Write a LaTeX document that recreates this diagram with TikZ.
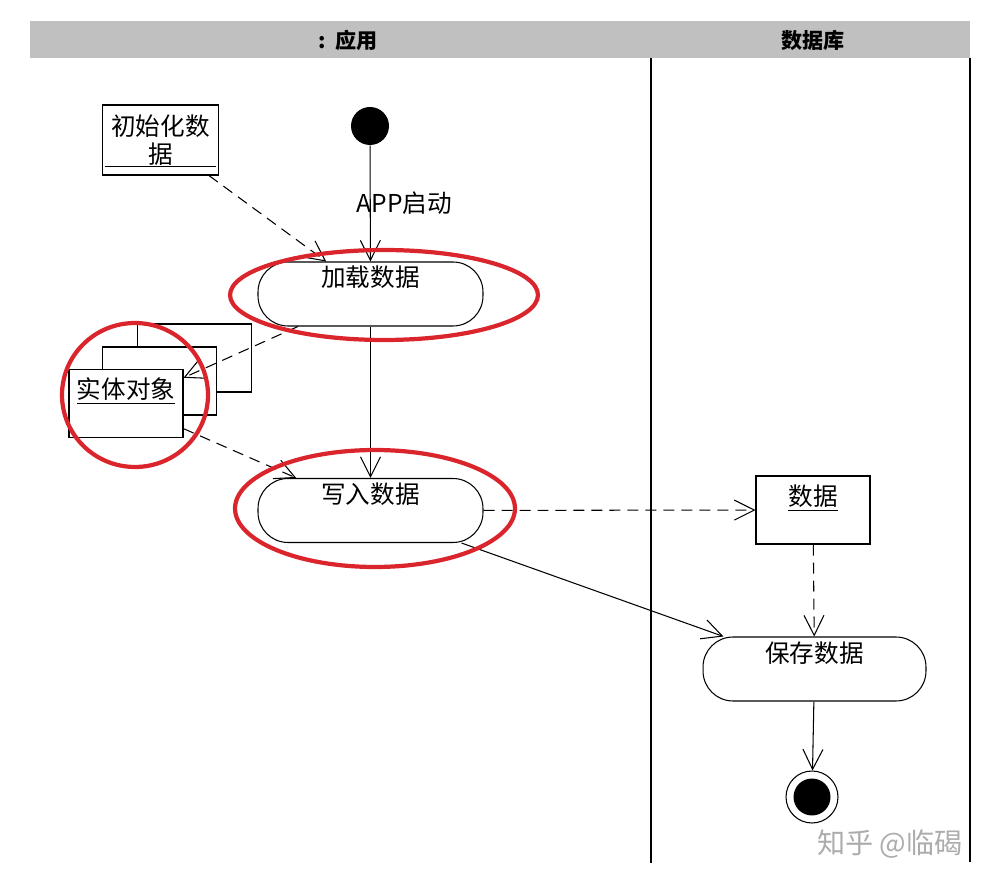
\documentclass[tikz,border=0pt]{standalone}
\usepackage{fontspec}
\setmainfont{Noto Sans CJK SC}
\usetikzlibrary{arrows.meta, shapes.geometric}
\definecolor{lanegray}{RGB}{192,192,192}
\definecolor{markred}{RGB}{218,37,45}
\definecolor{wmgray}{RGB}{172,172,172}
\tikzset{
    act/.style={rectangle, rounded corners=0.6cm, draw=black, line width=0.6pt, fill=white, minimum width=4.5cm, minimum height=1.28cm, text height=0.5cm, text depth=0.78cm, inner ysep=0pt, font=\fontsize{14}{16}\selectfont},
    obj/.style={rectangle, draw=black, line width=0.6pt, fill=white, minimum width=2.28cm, minimum height=1.36cm, inner ysep=0pt, font=\fontsize{14}{16}\selectfont},
    objtop/.style={obj, text height=0.58cm, text depth=0.76cm},
    flow/.style={-{Straight Barb[length=4mm, width=4mm]}, line width=0.6pt, black},
    dep/.style={flow, dash pattern=on 0.22cm off 0.14cm},
    hilite/.style={draw=markred, line width=2.4pt},
    lanetitle/.style={font=\fontsize{12}{14}\selectfont\bfseries}
}

\begin{document}
\begin{tikzpicture}[x=0.02cm, y=-0.02cm]
    \useasboundingbox (0,0) rectangle (997,884);
    % swimlanes
    \fill[lanegray] (30,21) rectangle (970,58);
    \node[lanetitle] (appl) at (348,40) {:\ \ 应用};
    \node[lanetitle] (dbl) at (813,40) {数据库};
    \draw[line width=0.8pt] (651,58) -- (651,863);
    \draw[line width=0.8pt] (970,58) -- (970,862);

    % states
    \node[circle, fill=black, minimum size=0.76cm, inner sep=0pt] (start) at (370,126) {};
    \node[act] (load) at (370.5,294) {加载数据};
    \node[act] (write) at (370.5,510.5) {写入数据};
    \node[act, minimum width=4.46cm] (save) at (814.5,669) {保存数据};
    \node[circle, draw=black, line width=0.6pt, minimum size=1.04cm, inner sep=0pt,
        path picture={\fill (path picture bounding box.center) circle (0.37cm);}] (stop) at (812,797) {};

    % objects
    \node[obj, minimum height=1.4cm, align=center, text width=2.1cm] (init) at (160.5,140) {初始化数\\据};
    \draw[line width=0.6pt] ([shift={(3,-9)}]init.south west) -- ([shift={(-3,-9)}]init.south east);
    \node[obj] (ent3) at (194.5,358) {};
    \node[obj] (ent2) at (159.5,381) {};
    \node[objtop] (ent) at (126,403.5) {\underline{实体对象}};
    \node[objtop] (data) at (813,510) {\underline{数据}};

    % flows
    \draw[flow] (start) -- node[anchor=west, xshift=-0.4cm, font=\fontsize{14}{16}\selectfont] (applbl) {APP启动} (load);
    \draw[flow] (load) -- (write);
    \draw[flow] (write) -- (save);
    \draw[flow] (save) -- (stop);
    \draw[dep] (init) -- (load);
    \draw[dep] (load) -- (ent);
    \draw[dep] (ent) -- (write);
    \draw[dep] (write) -- (data);
    \draw[dep] (data) -- (save);

    % red marks
    \draw[hilite] (384,295) ellipse [x radius=3.08cm, y radius=0.9cm];
    \draw[hilite] (375,508.5) ellipse [x radius=2.8cm, y radius=1.17cm];
    \draw[hilite] (135,395) ellipse [x radius=1.46cm, y radius=1.44cm];

    \node[text=wmgray, font=\fontsize{16}{18}\selectfont] (wmark) at (890,844) {知乎 @临碣};
\end{tikzpicture}
\end{document}
